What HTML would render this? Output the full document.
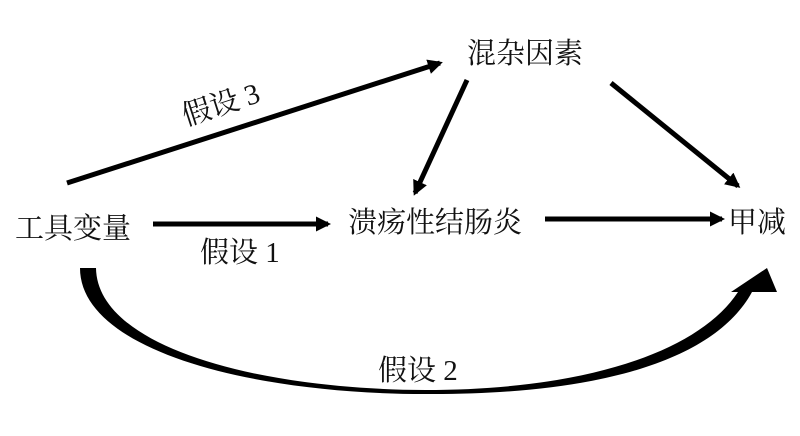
<!DOCTYPE html>
<html><head><meta charset="utf-8"><style>
html,body{margin:0;padding:0;background:#fff;}
svg{display:block}
text{font-family:"Liberation Serif","Noto Serif CJK SC",serif;fill:#111;font-size:29px}
</style></head><body>
<svg width="800" height="436" viewBox="0 0 800 436" xmlns="http://www.w3.org/2000/svg">
<defs>
<marker id="a" viewBox="0 0 10 10" refX="8" refY="5" markerWidth="3" markerHeight="3" orient="auto"><path d="M0,0 L10,5 L0,10 z" fill="#000"/></marker>
</defs>
<g stroke="#000" stroke-width="5" fill="none" marker-end="url(#a)">
<line x1="153" y1="224" x2="328" y2="224"/>
<line x1="545" y1="219" x2="722" y2="219"/>
<line x1="67" y1="183" x2="440" y2="63"/>
<line x1="467" y1="80" x2="415" y2="193"/>
<line x1="611" y1="83" x2="738" y2="186"/>
</g>
<path d="M80,268 L96,268 C97,345 250,389 425,390 C590,390 700,350 738,292 L731,292 L767,268 L777,292 L752,292 C715,360 600,395 425,394 C250,394 80,350 80,268 Z" fill="#000"/>
<text x="15" y="238">工具变量</text>
<text x="348" y="232">溃疡性结肠炎</text>
<text x="728" y="232">甲减</text>
<text x="467" y="63">混杂因素</text>
<text x="200" y="262" font-size="27">假设 1</text>
<text x="378" y="380" font-size="27">假设 2</text>
<text x="0" y="0" font-size="27" transform="translate(186,126) rotate(-18)">假设 3</text>
</svg>
</body></html>
